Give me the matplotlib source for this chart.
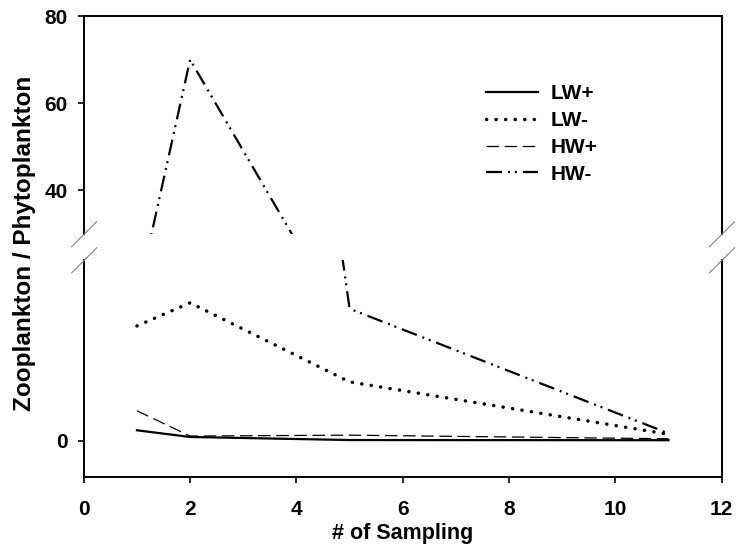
import matplotlib
matplotlib.use("Agg")
import matplotlib.pyplot as plt
from matplotlib.lines import Line2D

plt.rcParams['font.family'] = ['Liberation Sans', 'DejaVu Sans']
plt.rcParams['font.weight'] = 'bold'

# datos
sampling = [1, 2, 5, 11]
lw_plus = [0.57, 0.2, 0.03, 0.02]
lw_minus = [6.35, 7.63, 3.25, 0.35]
hw_plus = [1.65, 0.25, 0.3, 0.1]
hw_minus = [15.0, 70.0, 7.3, 0.4]

labels = ["LW+", "LW-", "HW+", "HW-"]
x_ticks = [0, 2, 4, 6, 8, 10, 12]
upper_ticks = [40, 60, 80]
lower_ticks = [0]

W, H = 737, 551
fig = plt.figure(figsize=(W / 100, H / 100), dpi=100)

left = 83.8 / W
width = (721.7 - 83.8) / W
ax_top = fig.add_axes([left, 1 - 234 / H, width, (234 - 16.1) / H])
ax_bot = fig.add_axes([left, 1 - 476.7 / H, width, (476.7 - 260) / H])

styles = [
    dict(color="black", lw=1.6, linestyle="-"),
    dict(color="black", lw=2.5, linestyle=(0, (0.05, 2.7)), dash_capstyle="round"),
    dict(color="black", lw=0.9, linestyle=(0, (10, 4.5))),
    dict(color="black", lw=1.6, linestyle=(0, (7.2, 2.7, 0.9, 2.2, 0.9, 2.7))),
]
series = [lw_plus, lw_minus, hw_plus, hw_minus]

for ax in (ax_top, ax_bot):
    for vals, st, lab in zip(series, styles, labels):
        ax.plot(sampling, vals, label=lab, **st)
    ax.set_xlim(0, 12)
    for s in ax.spines.values():
        s.set_linewidth(1.4)
    ax.tick_params(direction="out", length=4.5, width=1.2, labelsize=15, pad=7)

ax_top.set_ylim(30, 80)
ax_bot.set_ylim(-2, 10)
ax_top.set_yticks(upper_ticks)
ax_bot.set_yticks(lower_ticks)
ax_top.spines["bottom"].set_visible(False)
ax_bot.spines["top"].set_visible(False)
ax_top.tick_params(axis="x", bottom=False, labelbottom=False)
ax_bot.set_xticks(x_ticks)
ax_bot.tick_params(axis="x", pad=12)

# marcas de corte del eje
for xp in (84.2, 722.0):
    for yp in (234.2, 260.3):
        fig.add_artist(Line2D([(xp - 12.5) / W, (xp + 12.5) / W],
                              [1 - (yp + 12.5) / H, 1 - (yp - 12.5) / H],
                              transform=fig.transFigure, color="gray", lw=0.8))

leg = ax_top.legend(loc="upper left", bbox_to_anchor=(486 / W, 1 - 84 / H),
                    bbox_transform=fig.transFigure, frameon=False, fontsize=15,
                    handlelength=2.5, handletextpad=0.6, labelspacing=0.38,
                    borderpad=0, borderaxespad=0)

fig.text(25 / W, 1 - 243.5 / H, "Zooplankton / Phytoplankton", rotation=90,
         ha="center", va="center", fontsize=17.5, fontweight="bold")
fig.text(402.7 / W, 1 - 534 / H, "# of Sampling", ha="center", va="center",
         fontsize=15.5, fontweight="bold")

fig.savefig("out.png", dpi=100)
